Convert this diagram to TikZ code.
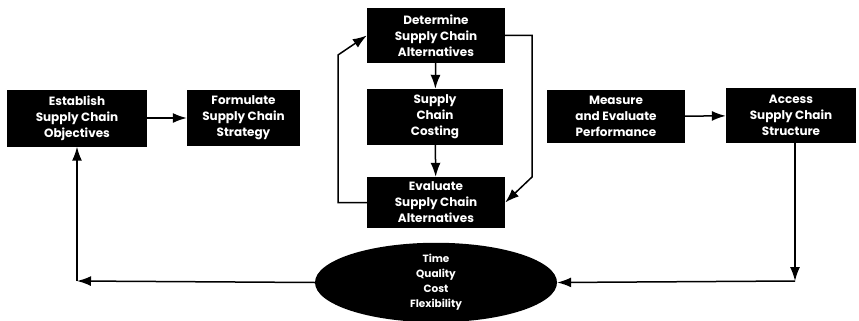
\documentclass[tikz,border=0pt]{standalone}
\usepackage{fontspec}
\setmainfont{Poppins}
\usetikzlibrary{arrows.meta,shapes.geometric}
\tikzset{
  box/.style={fill=black, text=white, align=center, inner sep=0pt,
    font=\bfseries\fontsize{12}{16}\selectfont},
  arr/.style={line width=1.5pt, -{Latex[length=14pt,width=10pt]}},
}
\begin{document}
\begin{tikzpicture}[x=1pt,y=-1pt]
\useasboundingbox (0,0) rectangle (859,321);
\node[box, minimum width=140, minimum height=57] (est) at (77,118) {Establish\\Supply Chain\\Objectives};
\node[box, minimum width=113, minimum height=56] (form) at (243.5,118) {Formulate\\Supply Chain\\Strategy};
\node[box, minimum width=138, minimum height=55] (det) at (436,35.5) {Determine\\Supply Chain\\Alternatives};
\node[box, minimum width=136, minimum height=56] (cost) at (435,117) {Supply\\Chain\\Costing};
\node[box, minimum width=138, minimum height=51] (eval) at (436,202.5) {Evaluate\\Supply Chain\\Alternatives};
\node[box, minimum width=138, minimum height=53] (meas) at (616,116.5) {Measure\\and Evaluate\\Performance};
\node[box, minimum width=130, minimum height=55] (acc) at (791,115.5) {Access\\Supply Chain\\Structure};
\node[ellipse, fill=black, text=white, align=center, inner sep=0pt,
  minimum width=242, minimum height=72,
  font=\bfseries\fontsize{10.5}{15}\selectfont] (ell) at (436,282.5) {Time\\Quality\\Cost\\Flexibility};

\coordinate (lb) at (338,55);
\coordinate (rb) at (532,177);
\coordinate (br) at (795,281);
\coordinate (bl) at (77,281);

\draw[arr] (est) -- (form);
\draw[arr] (meas) -- (acc);
\draw[arr] (det) -- (cost);
\draw[arr] (cost) -- (eval);
\draw[arr] (eval.west) -| (lb) -- (det.west);
\draw[arr] (det.east) -| (rb) -- (eval.east);
\draw[arr] (acc.south -| br) -- (br);
\draw[arr] (br) -- (ell.east);
\draw[arr] (ell.west) -- (bl);
\draw[arr] (bl) -- (est.south);
\end{tikzpicture}
\end{document}
